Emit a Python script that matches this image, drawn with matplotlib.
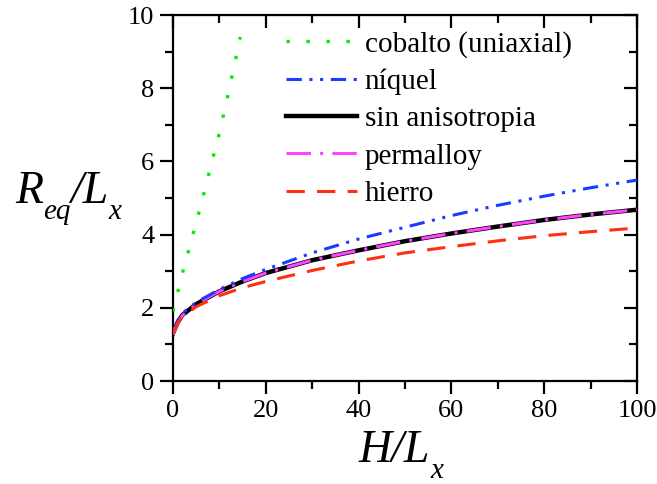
import numpy as np
import matplotlib
matplotlib.use("Agg")
import matplotlib.pyplot as plt
from matplotlib.ticker import MultipleLocator

plt.rcParams['font.family'] = ['Liberation Serif', 'DejaVu Serif']

# data
x_co = [0, 2, 4, 6, 8, 10, 12, 14.5]
y_co = [1.9, 2.93, 3.86, 4.8, 5.8, 6.78, 7.9, 9.4]

x_h = [0, 1, 2, 5, 10, 15, 20, 30, 40, 50, 60, 70, 80, 90, 100]
y_ni = [1.35, 1.65, 1.85, 2.15, 2.5, 2.8, 3.05, 3.5, 3.88, 4.2, 4.52, 4.8, 5.05, 5.28, 5.49]
y_sin = [1.3, 1.6, 1.8, 2.1, 2.45, 2.72, 2.95, 3.3, 3.57, 3.82, 4.03, 4.22, 4.4, 4.55, 4.68]
y_py = [1.27, 1.58, 1.79, 2.1, 2.45, 2.72, 2.95, 3.3, 3.57, 3.82, 4.03, 4.22, 4.4, 4.55, 4.68]
y_fe = [1.3, 1.58, 1.75, 2.03, 2.33, 2.55, 2.72, 3.02, 3.28, 3.5, 3.67, 3.83, 3.97, 4.08, 4.18]

fig = plt.figure(figsize=(6.57, 4.84), dpi=100)
ax = fig.add_axes([173/657, 1 - 381/484, 464/657, 366/484])

ax.plot(x_co, y_co, color='#00ee00', lw=2.4, dashes=(1, 5), label='cobalto (uniaxial)', zorder=4)
ax.plot(x_h, y_ni, color='#1a3cff', lw=2.2, dashes=(5, 2.5, 1, 2.5, 1, 2.5), label='níquel', zorder=4)
ax.plot(x_h, y_sin, color='black', lw=3.2, label='sin anisotropia', zorder=2)
ax.plot(x_h, y_py, color='#ff44ff', lw=2.2, dashes=(8, 3, 1, 3), label='permalloy', zorder=3)
ax.plot(x_h, y_fe, color='#ff3010', lw=2.2, dashes=(6, 4), label='hierro', zorder=4)

ax.set_xlim(0, 100)
ax.set_ylim(0, 10)
ax.xaxis.set_major_locator(MultipleLocator(20))
ax.xaxis.set_minor_locator(MultipleLocator(10))
ax.yaxis.set_major_locator(MultipleLocator(2))
ax.yaxis.set_minor_locator(MultipleLocator(1))
for s in ax.spines.values():
    s.set_linewidth(1.6)
ax.tick_params(which='major', direction='out', length=9.5, width=1.6, labelsize=19, pad=4)
ax.tick_params(which='minor', direction='out', length=5.5, width=1.6)

# mirrored ticks pointing inward on top and right
top = ax.secondary_xaxis('top')
top.xaxis.set_major_locator(MultipleLocator(20))
top.xaxis.set_minor_locator(MultipleLocator(10))
top.tick_params(which='major', direction='in', length=9.5, width=1.6, labeltop=False)
top.tick_params(which='minor', direction='in', length=5.5, width=1.6)
right = ax.secondary_yaxis('right')
right.yaxis.set_major_locator(MultipleLocator(2))
right.yaxis.set_minor_locator(MultipleLocator(1))
right.tick_params(which='major', direction='in', length=9.5, width=1.6, labelright=False)
right.tick_params(which='minor', direction='in', length=5.5, width=1.6)

# axis labels built from pieces so the subscripts sit low like the original
renderer = fig.canvas.get_renderer()

def label(x0, y0, parts):
    x = x0
    for txt, size, drop in parts:
        t = fig.text(x / 657, 1 - (y0 + drop) / 484, txt, fontsize=size,
                     style='italic', ha='left', va='baseline')
        x = t.get_window_extent(renderer).x1

label(15, 203, [('R', 33, 0), ('eq', 21, 16), ('/L', 33, 0), ('x', 21, 16)])
label(359, 462, [('H/L', 33, 0), ('x', 21, 16)])

ax.legend(loc='upper left', bbox_to_anchor=(286/657, 1 - 31/484), bbox_transform=fig.transFigure,
          frameon=False, fontsize=21, handlelength=2.45, handletextpad=0.25,
          labelspacing=0.37, borderpad=0, borderaxespad=0)

fig.savefig('out.png', dpi=100)
